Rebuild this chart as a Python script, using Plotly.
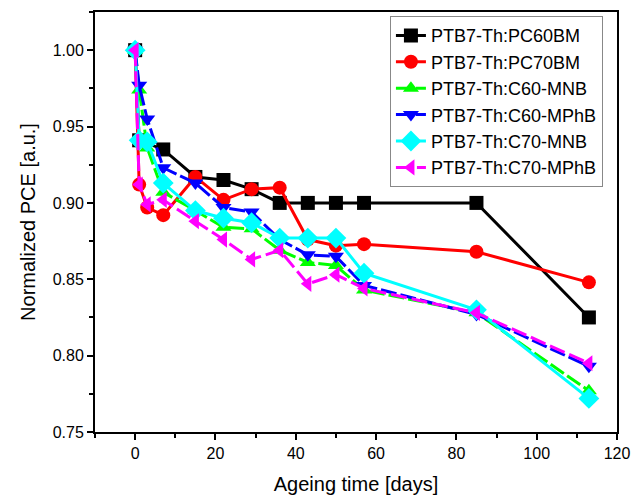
import plotly.graph_objects as go

names = ["PTB7-Th:PC60BM", "PTB7-Th:PC70BM", "PTB7-Th:C60-MNB",
         "PTB7-Th:C60-MPhB", "PTB7-Th:C70-MNB", "PTB7-Th:C70-MPhB"]

x_black = [0, 1, 7, 15, 22, 29, 36, 43, 50, 57, 85, 113]
y_black = [1.00, 0.941, 0.935, 0.917, 0.915, 0.909, 0.900, 0.900, 0.900, 0.900, 0.900, 0.825]

x_all = [0, 1, 3, 7, 15, 22, 29, 36, 43, 50, 57, 85, 113]
y_red = [1.00, 0.912, 0.897, 0.892, 0.917, 0.902, 0.909, 0.910, 0.876, 0.872, 0.873, 0.868, 0.848]
y_green = [1.00, 0.974, 0.936, 0.907, 0.895, 0.884, 0.883, 0.869, 0.861, 0.859, 0.843, 0.828, 0.777]
y_blue = [1.00, 0.977, 0.955, 0.923, 0.913, 0.897, 0.894, 0.876, 0.866, 0.865, 0.846, 0.827, 0.793]
y_cyan = [1.00, 0.941, 0.940, 0.913, 0.895, 0.890, 0.887, 0.877, 0.877, 0.877, 0.854, 0.830, 0.772]
y_magenta = [1.00, 0.912, 0.899, 0.902, 0.888, 0.876, 0.863, 0.869, 0.847, 0.853, 0.844, 0.828, 0.795]

series = [
    (x_black, y_black, "#000000", "square", "solid"),
    (x_all, y_red, "#FF0000", "circle", "solid"),
    (x_all, y_green, "#00FF00", "triangle-up", "16px,4px"),
    (x_all, y_blue, "#0000FF", "triangle-down", "16px,4px"),
    (x_all, y_cyan, "#00FFFF", "diamond", "solid"),
    (x_all, y_magenta, "#FF00FF", "triangle-left", "16px,5px"),
]

fig = go.Figure()
for name, (xs, ys, col, sym, dash) in zip(names, series):
    fig.add_trace(go.Scatter(
        x=xs, y=ys, name=name, mode="lines+markers",
        line=dict(color=col, width=3, dash=dash),
        marker=dict(symbol=sym, size=14 if sym != "diamond" else 16, color=col),
    ))

font = "Liberation Sans, Arial, sans-serif"
axis_common = dict(
    showline=True, linecolor="black", linewidth=2, mirror=True,
    ticks="outside", ticklen=6, tickwidth=1.5, tickcolor="black",
    showgrid=False, zeroline=False, automargin=False,
    tickfont=dict(family=font, size=16, color="black"),
)
fig.update_xaxes(range=[-10, 120], dtick=20, tick0=0,
                 minor=dict(ticks="outside", ticklen=4, dtick=10, tick0=0, tickcolor="black"),
                 title=dict(text="Ageing time [days]", font=dict(family=font, size=20, color="black"), standoff=16),
                 **axis_common)
fig.update_yaxes(range=[0.75, 1.025], dtick=0.05, tick0=0.75, tickformat=".2f",
                 minor=dict(ticks="outside", ticklen=4, dtick=0.025, tick0=0.75, tickcolor="black"),
                 title=dict(text="Normalized PCE [a.u.]", font=dict(family=font, size=20, color="black"), standoff=12),
                 **axis_common)

fig.update_layout(
    width=633, height=497,
    margin=dict(l=95, r=16, t=12, b=65),
    plot_bgcolor="white", paper_bgcolor="white",
    font=dict(family=font, color="black"),
    legend=dict(x=0.565, y=0.99, xanchor="left", yanchor="top",
                bordercolor="#888888", borderwidth=1, bgcolor="white",
                font=dict(family=font, size=18, color="black"),
                tracegroupgap=0),
)

fig.write_html("out.html")
